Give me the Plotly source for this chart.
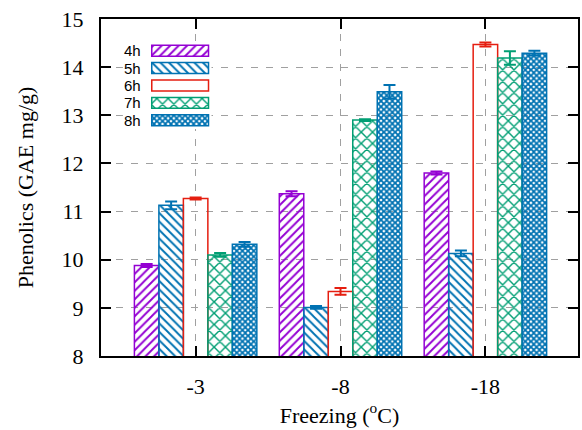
import plotly.graph_objects as go

# Freezing temperatures (x categories) and series (storage times)
categories = ["-3", "-8", "-18"]
series_names = ["4h", "5h", "6h", "7h", "8h"]

phen_4h = [9.88, 11.37, 11.80]
phen_5h = [11.13, 9.01, 10.13]
phen_6h = [11.27, 9.34, 14.47]
phen_7h = [10.10, 12.90, 14.19]
phen_8h = [10.32, 13.49, 14.29]

err_4h = [0.03, 0.05, 0.03]
err_5h = [0.08, 0.03, 0.06]
err_6h = [0.02, 0.07, 0.04]
err_7h = [0.04, 0.02, 0.14]
err_8h = [0.05, 0.14, 0.05]

values = [phen_4h, phen_5h, phen_6h, phen_7h, phen_8h]
errors = [err_4h, err_5h, err_6h, err_7h, err_8h]

colors = ["#9400d3", "#0072b2", "#e51e10", "#009e73", "#0072b2"]
patterns = [
    dict(shape="/", size=6, solidity=0.32),
    dict(shape="\\", size=6, solidity=0.32),
    dict(shape=""),
    dict(shape="x", size=8, solidity=0.32),
    dict(shape="x", size=4, solidity=0.7),
]

SERIF = "Liberation Serif, Times New Roman, serif"
SANS = "Liberation Sans, Arial, sans-serif"

fig = go.Figure()

for name, vals, errs, col, pat in zip(series_names, values, errors, colors, patterns):
    empty = pat["shape"] == ""
    fig.add_trace(go.Bar(
        x=categories, y=vals, name=name,
        marker=dict(
            color="rgba(0,0,0,0)" if empty else col,
            line=dict(color=col, width=1.5),
            pattern=dict(fillmode="replace", **pat) if not empty else None,
        ),
        error_y=dict(type="data", array=errs, visible=True,
                     color=col, thickness=2, width=6),
        showlegend=False,
        xaxis="x", yaxis="y",
    ))

# Key: one horizontal bar per series in a small inset subplot
key_len = [1] * len(series_names)
fig.add_trace(go.Bar(
    y=series_names, x=key_len, base=0, orientation="h", width=0.63,
    marker=dict(
        color=[c if p["shape"] else "rgba(0,0,0,0)" for c, p in zip(colors, patterns)],
        line=dict(color=colors, width=1.5),
        pattern=dict(
            fillmode="replace",
            shape=[p["shape"] for p in patterns],
            size=[p.get("size", 8) for p in patterns],
            solidity=[p.get("solidity", 0.3) for p in patterns],
        ),
    ),
    showlegend=False, hoverinfo="skip",
    xaxis="x2", yaxis="y2",
))

for name in series_names:
    fig.add_annotation(x=-0.16, y=name, xref="x2", yref="y2", text=name,
                       showarrow=False, xanchor="right", yanchor="middle",
                       font=dict(family=SANS, size=15, color="black"))

grid = dict(showgrid=True, gridcolor="#a0a0a0", gridwidth=1.3, griddash="7px,8px")

fig.update_layout(
    width=582, height=430,
    margin=dict(l=101, r=2, t=19, b=74),
    paper_bgcolor="white", plot_bgcolor="white",
    barmode="group", bargap=0.155, bargroupgap=0,
    font=dict(family=SERIF, size=22, color="black"),
    xaxis=dict(
        type="category", range=[-0.653, 2.639], domain=[0, 1],
        showline=True, linecolor="black", linewidth=2, mirror="ticks",
        ticks="inside", ticklen=10, tickwidth=2, tickcolor="black",
        ticklabelstandoff=10,
        tickfont=dict(family=SERIF, size=22),
        title=dict(text="Freezing (<sup>o</sup>C)", standoff=4,
                   font=dict(family=SERIF, size=22)),
        zeroline=False, **grid,
    ),
    yaxis=dict(
        range=[8, 15], dtick=1, domain=[0, 1],
        showline=True, linecolor="black", linewidth=2, mirror="ticks",
        ticks="inside", ticklen=10, tickwidth=2, tickcolor="black",
        ticklabelstandoff=11,
        tickfont=dict(family=SERIF, size=22),
        title=dict(text="Phenolics (GAE mg/g)", standoff=22,
                   font=dict(family=SERIF, size=22)),
        zeroline=False, **grid,
    ),
    xaxis2=dict(domain=[0.0459, 0.2317], anchor="y2", range=[-0.509, 1.053],
                showgrid=False, zeroline=False, showticklabels=False,
                showline=False, ticks="", fixedrange=True),
    yaxis2=dict(domain=[0.6736, 0.9318], anchor="x2", type="category",
                range=[4.5, -0.5], showgrid=False, zeroline=False,
                showticklabels=False, showline=False, ticks="", fixedrange=True),
)

fig.write_html("out.html")
